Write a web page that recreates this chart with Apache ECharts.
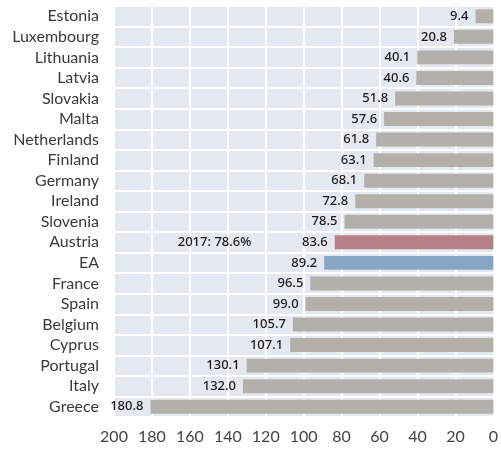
<!DOCTYPE html>
<html lang="en">
<head>
  <meta charset="UTF-8">
  <title>debt-chart</title>
  <style>
    html, body { margin: 0; padding: 0; background: #fff; }
    #main { width: 501px; height: 450px; }
  </style>
</head>
<body>
  <div id="main"></div>
  <script src="https://cdn.jsdelivr.net/npm/echarts@6/dist/echarts.min.js"></script>
  <script>
    var countries = ['Estonia', 'Luxembourg', 'Lithuania', 'Latvia', 'Slovakia', 'Malta', 'Netherlands', 'Finland', 'Germany', 'Ireland', 'Slovenia', 'Austria', 'EA', 'France', 'Spain', 'Belgium', 'Cyprus', 'Portugal', 'Italy', 'Greece']
    var values = [9.4, 20.8, 40.1, 40.6, 51.8, 57.6, 61.8, 63.1, 68.1, 72.8, 78.5, 83.6, 89.2, 96.5, 99.0, 105.7, 107.1, 130.1, 132.0, 180.8]
    var highlight = { 'Austria': '#b5808a', 'EA': '#87a6c6' }
    var note = { text: '2017: 78.6%', country: 'Austria', at: 147 }

    var myChart = echarts.init(document.getElementById('main'))

    var data = values.map(function (v, i) {
      var c = highlight[countries[i]]
      return c ? { value: v, itemStyle: { color: c } } : v
    })

    var option = {
      animation: false,
      textStyle: { fontFamily: 'Lato' },
      grid: {
        left: 114, right: 7, top: 6, bottom: 33,
        show: true, backgroundColor: '#e4e9f1', borderWidth: 0
      },
      xAxis: {
        type: 'value',
        inverse: true,
        min: 0, max: 200, interval: 20,
        axisLine: { show: false },
        axisTick: { show: false },
        axisLabel: { fontSize: 16, color: '#444', margin: 12, fontFamily: 'Lato' },
        splitLine: { lineStyle: { color: '#ffffff', width: 2 } }
      },
      yAxis: {
        type: 'category',
        inverse: true,
        data: countries,
        axisLine: { show: false },
        axisTick: { show: false },
        axisLabel: { interval: 0, fontSize: 16, color: '#3a3a3a', margin: 15, fontFamily: 'Lato' },
        splitLine: { show: true, interval: 0, lineStyle: { color: '#ffffff', width: 2 } }
      },
      series: [{
        type: 'bar',
        data: data,
        barCategoryGap: '32%',
        itemStyle: { color: '#b3b0ab' },
        label: {
          show: true,
          position: 'left',
          distance: 7,
          fontSize: 13,
          fontWeight: 500,
          color: '#1a1a1a',
          fontFamily: 'Noto Sans',
          formatter: function (p) { return p.value.toFixed(1) }
        },
        markPoint: {
          symbolSize: 0,
          data: [{
            coord: [note.at, note.country],
            label: {
              show: true,
              position: 'inside',
              formatter: note.text,
              fontSize: 13,
              fontWeight: 500,
              color: '#1a1a1a',
              fontFamily: 'Noto Sans'
            }
          }]
        }
      }]
    }
    myChart.setOption(option)
  </script>
</body>
</html>
